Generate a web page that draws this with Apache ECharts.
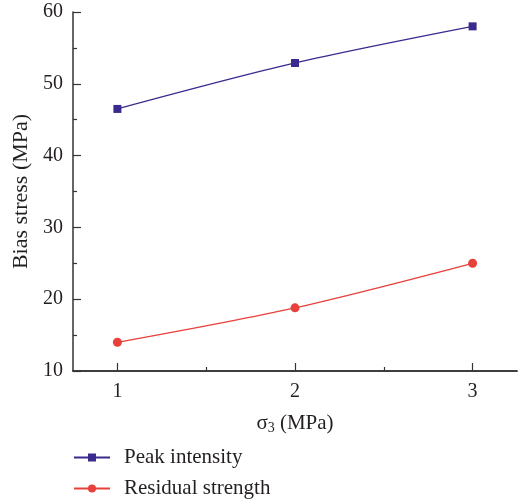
<!DOCTYPE html>
<html><head><meta charset="utf-8">
<script src="https://cdn.jsdelivr.net/npm/echarts@6/dist/echarts.min.js"></script>
<style>html,body{margin:0;padding:0;background:#fff}#c{width:520px;height:502px}</style>
</head><body><div id="c"></div>
<script>
const sigma3 = [1, 2, 3];
const peakIntensity = [46.5, 52.9, 58.0];
const residualStrength = [14.0, 18.8, 25.0];
const xMajorTicks = [1, 2, 3];
const xMinorTicks = [1.5, 2.5];
const seriesNames = ['Peak intensity', 'Residual strength'];

const font = 'Liberation Serif';
const axisColor = '#333';
const textColor = '#231f20';
const chart = echarts.init(document.getElementById('c'));
const xBase = {
  type: 'value', min: 0.75, max: 3.25, position: 'bottom',
  axisLine: { show: true, lineStyle: { color: axisColor, width: 1.5 } },
  splitLine: { show: false }
};
const legendBase = {
  orient: 'vertical', left: 68, itemWidth: 36, itemHeight: 10,
  textStyle: { fontFamily: font, fontSize: 21, color: textColor, padding: [0, 0, 0, 9] }
};
chart.setOption({
  animation: false,
  grid: { left: 73, right: 3, top: 12, bottom: 131, containLabel: false },
  legend: [
    Object.assign({}, legendBase, { top: 442, data: [seriesNames[0]] }),
    Object.assign({}, legendBase, { top: 473, data: [seriesNames[1]] })
  ],
  xAxis: [
    Object.assign({}, xBase, {
      name: '{a|σ}{s|3}{a| (MPa)}', nameLocation: 'middle', nameGap: 40,
      nameTextStyle: { rich: {
        a: { fontFamily: font, fontSize: 21, color: textColor },
        s: { fontFamily: font, fontSize: 14, color: textColor, verticalAlign: 'bottom', padding: [10, 0, 0, 0] }
      } },
      axisTick: { show: true, inside: true, length: 8, customValues: xMajorTicks, lineStyle: { color: axisColor, width: 1.2 } },
      axisLabel: { show: true, margin: 11, customValues: xMajorTicks, fontFamily: font, fontSize: 20, color: textColor }
    }),
    Object.assign({}, xBase, {
      axisTick: { show: true, inside: true, length: 4, customValues: xMinorTicks, lineStyle: { color: axisColor, width: 1.2 } },
      axisLabel: { show: false }
    })
  ],
  yAxis: {
    type: 'value', min: 10, max: 60, interval: 10,
    name: 'Bias stress (MPa)', nameLocation: 'middle', nameGap: 33,
    nameTextStyle: { fontFamily: font, fontSize: 22, color: textColor },
    axisLine: { show: true, lineStyle: { color: axisColor, width: 1.5 } },
    axisTick: { show: true, inside: true, length: 8, lineStyle: { color: axisColor, width: 1.2 } },
    minorTick: { show: true, splitNumber: 2, length: 4, lineStyle: { color: axisColor, width: 1.2 } },
    axisLabel: { margin: 10, fontFamily: font, fontSize: 20, color: textColor },
    splitLine: { show: false }
  },
  series: [
    {
      name: seriesNames[0], type: 'line', smooth: 0.3,
      data: sigma3.map((x, i) => [x, peakIntensity[i]]),
      symbol: 'rect', symbolSize: 8,
      lineStyle: { color: '#3b2a8e', width: 1.3 }, itemStyle: { color: '#3b2a8e' }
    },
    {
      name: seriesNames[1], type: 'line', smooth: 0.3,
      data: sigma3.map((x, i) => [x, residualStrength[i]]),
      symbol: 'circle', symbolSize: 9,
      lineStyle: { color: '#e8403a', width: 1.3 }, itemStyle: { color: '#e8403a' }
    }
  ]
});
</script></body></html>
